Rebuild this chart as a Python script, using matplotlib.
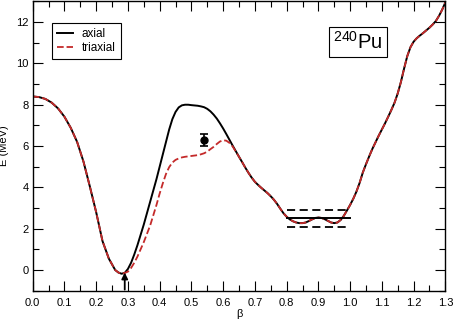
import matplotlib
matplotlib.use("Agg")
import matplotlib.pyplot as plt
from matplotlib.ticker import MultipleLocator, FormatStrFormatter

plt.rcParams['font.family'] = ['Liberation Sans', 'DejaVu Sans']
plt.rcParams['mathtext.fontset'] = 'custom'
plt.rcParams['mathtext.rm'] = 'Liberation Sans'
plt.rcParams['mathtext.default'] = 'regular'

# ── dane ────────────────────────────────────────────────────────────────────
beta = [0.00, 0.02, 0.04, 0.06, 0.08, 0.10, 0.12, 0.14, 0.16, 0.18, 0.20,
        0.22, 0.24, 0.26, 0.27, 0.28, 0.29, 0.30, 0.31, 0.32, 0.33, 0.34,
        0.35, 0.36, 0.37, 0.38, 0.39, 0.40, 0.41, 0.42, 0.43, 0.44, 0.45,
        0.46, 0.47, 0.48, 0.49, 0.50, 0.52, 0.53, 0.54, 0.55, 0.56, 0.57,
        0.58, 0.59, 0.60, 0.61, 0.62, 0.63, 0.64, 0.65, 0.66, 0.67, 0.68,
        0.69, 0.70, 0.71, 0.72, 0.73, 0.74, 0.75, 0.76, 0.77, 0.78, 0.79,
        0.80, 0.81, 0.82, 0.83, 0.84, 0.85, 0.86, 0.87, 0.88, 0.89, 0.90,
        0.91, 0.92, 0.93, 0.94, 0.95, 0.96, 0.97, 0.98, 0.99, 1.00, 1.01,
        1.02, 1.03, 1.04, 1.05, 1.06, 1.07, 1.08, 1.09, 1.10, 1.11, 1.12,
        1.13, 1.14, 1.15, 1.16, 1.17, 1.18, 1.19, 1.20, 1.21, 1.22, 1.23,
        1.24, 1.25, 1.26, 1.27, 1.28, 1.29, 1.30]

e_axial = [8.40, 8.37, 8.28, 8.10, 7.82, 7.42, 6.88, 6.20, 5.25, 4.05, 2.80,
           1.40, 0.55, 0.00, -0.12, -0.18, -0.14, 0.05, 0.35, 0.75, 1.20, 1.70,
           2.20, 2.75, 3.30, 3.85, 4.40, 5.00, 5.60, 6.20, 6.80, 7.30, 7.65,
           7.87, 7.97, 8.00, 8.00, 7.98, 7.95, 7.92, 7.88, 7.80, 7.68, 7.52,
           7.33, 7.10, 6.85, 6.58, 6.30, 6.02, 5.75, 5.48, 5.22, 4.95, 4.70,
           4.47, 4.27, 4.12, 3.98, 3.85, 3.72, 3.57, 3.40, 3.20, 2.97, 2.75,
           2.58, 2.45, 2.36, 2.30, 2.27, 2.27, 2.30, 2.37, 2.45, 2.52, 2.54,
           2.52, 2.46, 2.38, 2.30, 2.27, 2.30, 2.42, 2.62, 2.88, 3.15, 3.45,
           3.80, 4.22, 4.72, 5.12, 5.50, 5.86, 6.18, 6.50, 6.80, 7.10, 7.42,
           7.75, 8.10, 8.55, 9.10, 9.75, 10.35, 10.78, 11.05, 11.22, 11.35, 11.47,
           11.60, 11.73, 11.88, 12.05, 12.30, 12.60, 12.95]

e_triaxial = [8.40, 8.37, 8.28, 8.10, 7.82, 7.42, 6.88, 6.20, 5.25, 4.05, 2.80,
              1.40, 0.55, 0.00, -0.12, -0.18, -0.14, -0.08, 0.10, 0.35, 0.65, 1.00,
              1.35, 1.75, 2.15, 2.65, 3.15, 3.70, 4.20, 4.65, 4.98, 5.20, 5.33,
              5.40, 5.45, 5.48, 5.50, 5.52, 5.56, 5.60, 5.65, 5.73, 5.85, 5.96,
              6.10, 6.22, 6.28, 6.26, 6.15, 5.98, 5.73, 5.48, 5.22, 4.95, 4.70,
              4.47, 4.27, 4.12, 3.98, 3.85, 3.72, 3.57, 3.40, 3.20, 2.97, 2.75,
              2.58, 2.45, 2.36, 2.30, 2.27, 2.27, 2.30, 2.37, 2.45, 2.52, 2.54,
              2.52, 2.46, 2.38, 2.30, 2.27, 2.30, 2.42, 2.62, 2.88, 3.15, 3.45,
              3.80, 4.22, 4.72, 5.12, 5.50, 5.86, 6.18, 6.50, 6.80, 7.10, 7.42,
              7.75, 8.10, 8.55, 9.10, 9.75, 10.35, 10.78, 11.05, 11.22, 11.35, 11.47,
              11.60, 11.73, 11.88, 12.05, 12.30, 12.60, 12.95]

# punkt doświadczalny (bariera) i poziomy izomeru
exp_beta, exp_e, exp_err = 0.54, 6.3, 0.3
iso_range = [0.8, 1.0]
iso_level, iso_low, iso_high = 2.5, 2.1, 2.9
gs_beta = 0.29

fig = plt.figure(figsize=(4.55, 3.2), dpi=100)
ax = fig.add_axes([0.0718, 0.0916, 0.907, 0.904])

ax.plot(beta, e_axial, color='black', lw=1.4, label='axial')
ax.plot(beta, e_triaxial, color='#c42a2a', lw=1.3, ls='--', label='triaxial')

ax.errorbar([exp_beta], [exp_e], yerr=[exp_err], fmt='o', color='black',
            ms=5, capsize=3, elinewidth=1.2, capthick=1.2)

ax.plot(iso_range, [iso_level, iso_level], color='black', lw=1.4)
ax.plot(iso_range, [iso_high, iso_high], color='black', lw=1.3, ls=(0, (4.5, 2.5)))
ax.plot(iso_range, [iso_low, iso_low], color='black', lw=1.3, ls=(0, (4.5, 2.5)))

ax.annotate('', xy=(gs_beta, -0.12), xytext=(gs_beta, -0.95),
            arrowprops=dict(arrowstyle='-|>', color='black', lw=1.3,
                            mutation_scale=9, shrinkA=0, shrinkB=0))

ax.set_xlim(0, 1.3)
ax.set_ylim(-1, 13)
ax.xaxis.set_major_locator(MultipleLocator(0.1))
ax.xaxis.set_minor_locator(MultipleLocator(0.05))
ax.yaxis.set_major_locator(MultipleLocator(2))
ax.yaxis.set_minor_locator(MultipleLocator(1))
ax.xaxis.set_major_formatter(FormatStrFormatter('%.1f'))
ax.tick_params(which='both', direction='in', top=True, right=True,
               labelsize=8, width=0.8)
ax.tick_params(which='major', length=7)
ax.tick_params(which='minor', length=4)
ax.tick_params(axis='x', pad=5)
ax.tick_params(axis='y', pad=3)
for s in ax.spines.values():
    s.set_linewidth(1.0)

ax.set_xlabel('β', fontsize=8, labelpad=1)
ax.set_ylabel('E (MeV)', fontsize=8, labelpad=5)

leg = ax.legend(loc='upper left', bbox_to_anchor=(0.048, 0.925), fontsize=8.5,
                fancybox=False, edgecolor='black', framealpha=1,
                borderaxespad=0, handlelength=1.3, handletextpad=0.8,
                borderpad=0.4, labelspacing=0.2)
leg.get_frame().set_linewidth(0.8)

ax.text(0.788, 0.861, r'$^{240}$Pu', transform=ax.transAxes, fontsize=14.5,
        ha='center', va='center',
        bbox=dict(boxstyle='square,pad=0.2', facecolor='white',
                  edgecolor='black', lw=0.8))

fig.savefig('out.png', dpi=100)
